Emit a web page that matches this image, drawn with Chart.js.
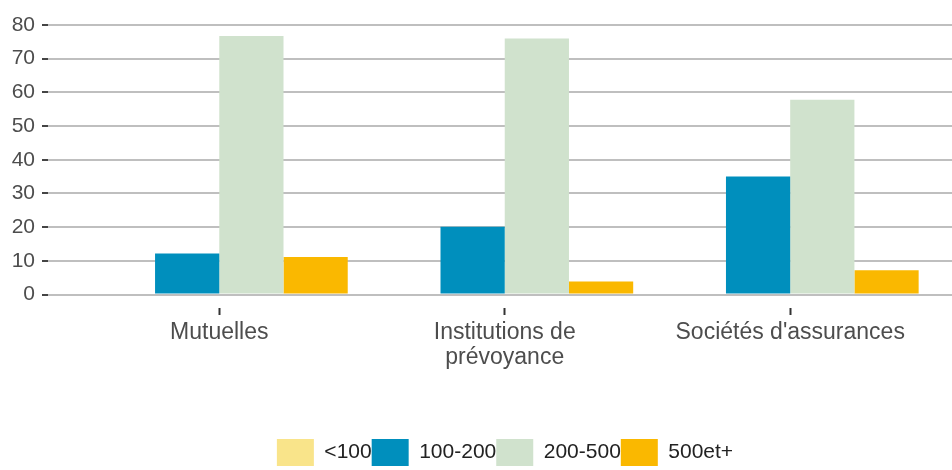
<!DOCTYPE html>
<html lang="fr">
<head>
<meta charset="utf-8">
<title>Répartition par taille</title>
<script src="https://cdn.jsdelivr.net/npm/chart.js@4/dist/chart.umd.min.js"></script>
<style>
    html, body { margin: 0; padding: 0; background: #fff; overflow: hidden; }
    #wrap { width: 1010px; height: 476px; position: relative; }
</style>
</head>
<body>
<div id="wrap"><canvas id="chartTaille"></canvas></div>
<script>

const categories = [['Mutuelles'], ['Institutions de', 'prévoyance'], ["Sociétés d'assurances"]];
const seriesNames = ['<100', '100-200', '200-500', '500et+'];
const moins100 = [0, 0, 0];
const de100a200 = [12.2, 20.1, 35.0];
const de200a500 = [76.7, 76.0, 57.8];
const plus500 = [11.1, 3.9, 7.2];
const yTicks = [0, 10, 20, 30, 40, 50, 60, 70, 80];

const colors = ['#f9e48a', '#008fbd', '#d0e2cd', '#fab800'];
const fontFamily = "'Liberation Sans', Arial, sans-serif";

function toPoints(values) {
    return values.map(function (v, i) { return { x: i, y: v }; });
}

function chartTaille() {

    const ctx = document.getElementById('chartTaille');
    const series = [moins100, de100a200, de200a500, plus500];

    new Chart(ctx, {
        type: 'bar',
        data: {
            datasets: series.map(function (values, i) {
                return {
                    label: seriesNames[i],
                    data: toPoints(values),
                    backgroundColor: colors[i],
                    borderWidth: 0,
                    categoryPercentage: 0.9,
                    barPercentage: 1
                };
            })
        },
        options: {
            responsive: true,
            maintainAspectRatio: false,
            animation: false,
            layout: {
                padding: { top: 11.5, bottom: 0, left: 0, right: 0 }
            },
            plugins: {
                tooltip: { enabled: false },
                legend: {
                    position: 'bottom',
                    align: 'center',
                    labels: {
                        boxWidth: 37,
                        boxHeight: 27,
                        padding: 0,
                        color: '#222',
                        font: { family: fontFamily, size: 21 }
                    }
                }
            },
            scales: {
                x: {
                    type: 'linear',
                    offset: false,
                    min: -0.6,
                    max: 2.77,
                    afterBuildTicks: function (scale) {
                        scale.ticks = categories.map(function (c, i) { return { value: i }; });
                    },
                    afterFit: function (scale) {
                        scale.height = 131;
                    },
                    grid: {
                        offset: false,
                        drawOnChartArea: false,
                        drawTicks: true,
                        tickLength: 7,
                        tickWidth: 2,
                        tickColor: '#333'
                    },
                    border: { display: false },
                    ticks: {
                        autoSkip: false,
                        maxRotation: 0,
                        padding: 5,
                        color: '#4d4d4d',
                        font: { family: fontFamily, size: 23, lineHeight: 1.08 },
                        callback: function (value) {
                            return categories[value];
                        }
                    }
                },
                y: {
                    min: -4,
                    max: 84,
                    afterBuildTicks: function (scale) {
                        scale.ticks = yTicks.map(function (v) { return { value: v }; });
                    },
                    afterFit: function (scale) {
                        scale.width = 48;
                        scale.paddingTop = 0;
                        scale.paddingBottom = 0;
                    },
                    grid: {
                        color: '#bfbfbf',
                        lineWidth: 2,
                        drawTicks: true,
                        tickLength: 6,
                        tickWidth: 2,
                        tickColor: '#444'
                    },
                    border: { display: false },
                    ticks: {
                        padding: 7,
                        color: '#4d4d4d',
                        font: { family: fontFamily, size: 21 }
                    }
                }
            }
        }
    });

}

chartTaille();

</script>
</body>
</html>
